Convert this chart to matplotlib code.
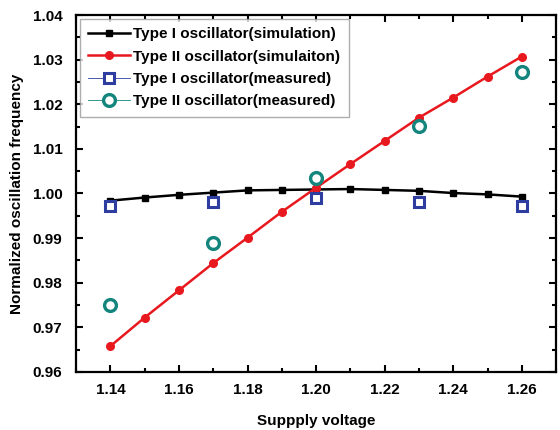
import matplotlib
matplotlib.use("Agg")
import matplotlib.pyplot as plt
from matplotlib.lines import Line2D
from matplotlib.ticker import MultipleLocator, FormatStrFormatter

plt.rcParams['font.family'] = ['Liberation Sans', 'DejaVu Sans']
plt.rcParams['font.weight'] = 'bold'

# simulation points (every 10 mV)
v_sim = [1.14, 1.15, 1.16, 1.17, 1.18, 1.19, 1.20, 1.21, 1.22, 1.23, 1.24, 1.25, 1.26]
type1_sim = [0.9984, 0.9991, 0.9997, 1.0002, 1.0007, 1.0008, 1.0009,
             1.0010, 1.0008, 1.0006, 1.0001, 0.9998, 0.9993]
type2_sim = [0.9658, 0.9722, 0.9783, 0.9844, 0.9901, 0.9959, 1.0013,
             1.0066, 1.0118, 1.0170, 1.0215, 1.0262, 1.0307]

# measured points
v_meas = [1.14, 1.17, 1.20, 1.23, 1.26]
type1_meas = [0.9973, 0.9982, 0.9989, 0.9980, 0.9972]
type2_meas = [0.9749, 0.9890, 1.0034, 1.0152, 1.0272]

BLUE = '#2d3ea0'
TEAL = '#13857d'
RED = '#e8191e'

fig = plt.figure(figsize=(5.6, 4.3), dpi=100)
ax = fig.add_axes([0.136, 0.135, 0.857, 0.830])

ax.plot(v_sim, type1_sim, color='black', lw=1.8, marker='s', ms=5,
        label='Type I oscillator(simulation)')
ax.plot(v_sim, type2_sim, color=RED, lw=1.8, marker='o', ms=5.5,
        label='Type II oscillator(simulaiton)')
ax.plot(v_meas, type1_meas, ls='none', marker='s', ms=7.5,
        mfc='white', mec=BLUE, mew=2.2, label='Type I oscillator(measured)')
ax.plot(v_meas, type2_meas, ls='none', marker='o', ms=8.5,
        mfc='white', mec=TEAL, mew=2.4, label='Type II oscillator(measured)')

ax.set_xlim(1.13, 1.27)
ax.set_ylim(0.96, 1.04)
ax.xaxis.set_major_locator(MultipleLocator(0.02))
ax.xaxis.set_minor_locator(MultipleLocator(0.01))
ax.yaxis.set_major_locator(MultipleLocator(0.01))
ax.yaxis.set_minor_locator(MultipleLocator(0.005))
ax.xaxis.set_major_formatter(FormatStrFormatter('%.2f'))
ax.yaxis.set_major_formatter(FormatStrFormatter('%.2f'))
ax.tick_params(which='both', direction='in', top=True, right=True, width=1.5,
               labelsize=11)
ax.tick_params(which='major', length=5)
ax.tick_params(which='minor', length=3)
ax.tick_params(axis='y', pad=10)
ax.tick_params(axis='x', pad=8)
for s in ax.spines.values():
    s.set_linewidth(1.6)

ax.set_xlabel('Suppply voltage', fontsize=11, fontweight='bold', labelpad=12)
ax.set_ylabel('Normalized oscillation frequency', fontsize=11, fontweight='bold',
              labelpad=6)

# measured series shown with a thin line in the legend
handles, labels = ax.get_legend_handles_labels()
handles[2] = Line2D([], [], color=BLUE, lw=0.6, marker='s', ms=7.5,
                    mfc='white', mec=BLUE, mew=2.2)
handles[3] = Line2D([], [], color=TEAL, lw=0.6, marker='o', ms=8.5,
                    mfc='white', mec=TEAL, mew=2.4)
leg = ax.legend(handles, labels, loc='upper left', fontsize=11, frameon=True,
                fancybox=False, edgecolor='#999999', handlelength=2.7,
                handletextpad=0.25, borderpad=0.55, labelspacing=0.55,
                borderaxespad=0.25)
leg.get_frame().set_linewidth(1.0)

fig.savefig('out.png', dpi=100)
